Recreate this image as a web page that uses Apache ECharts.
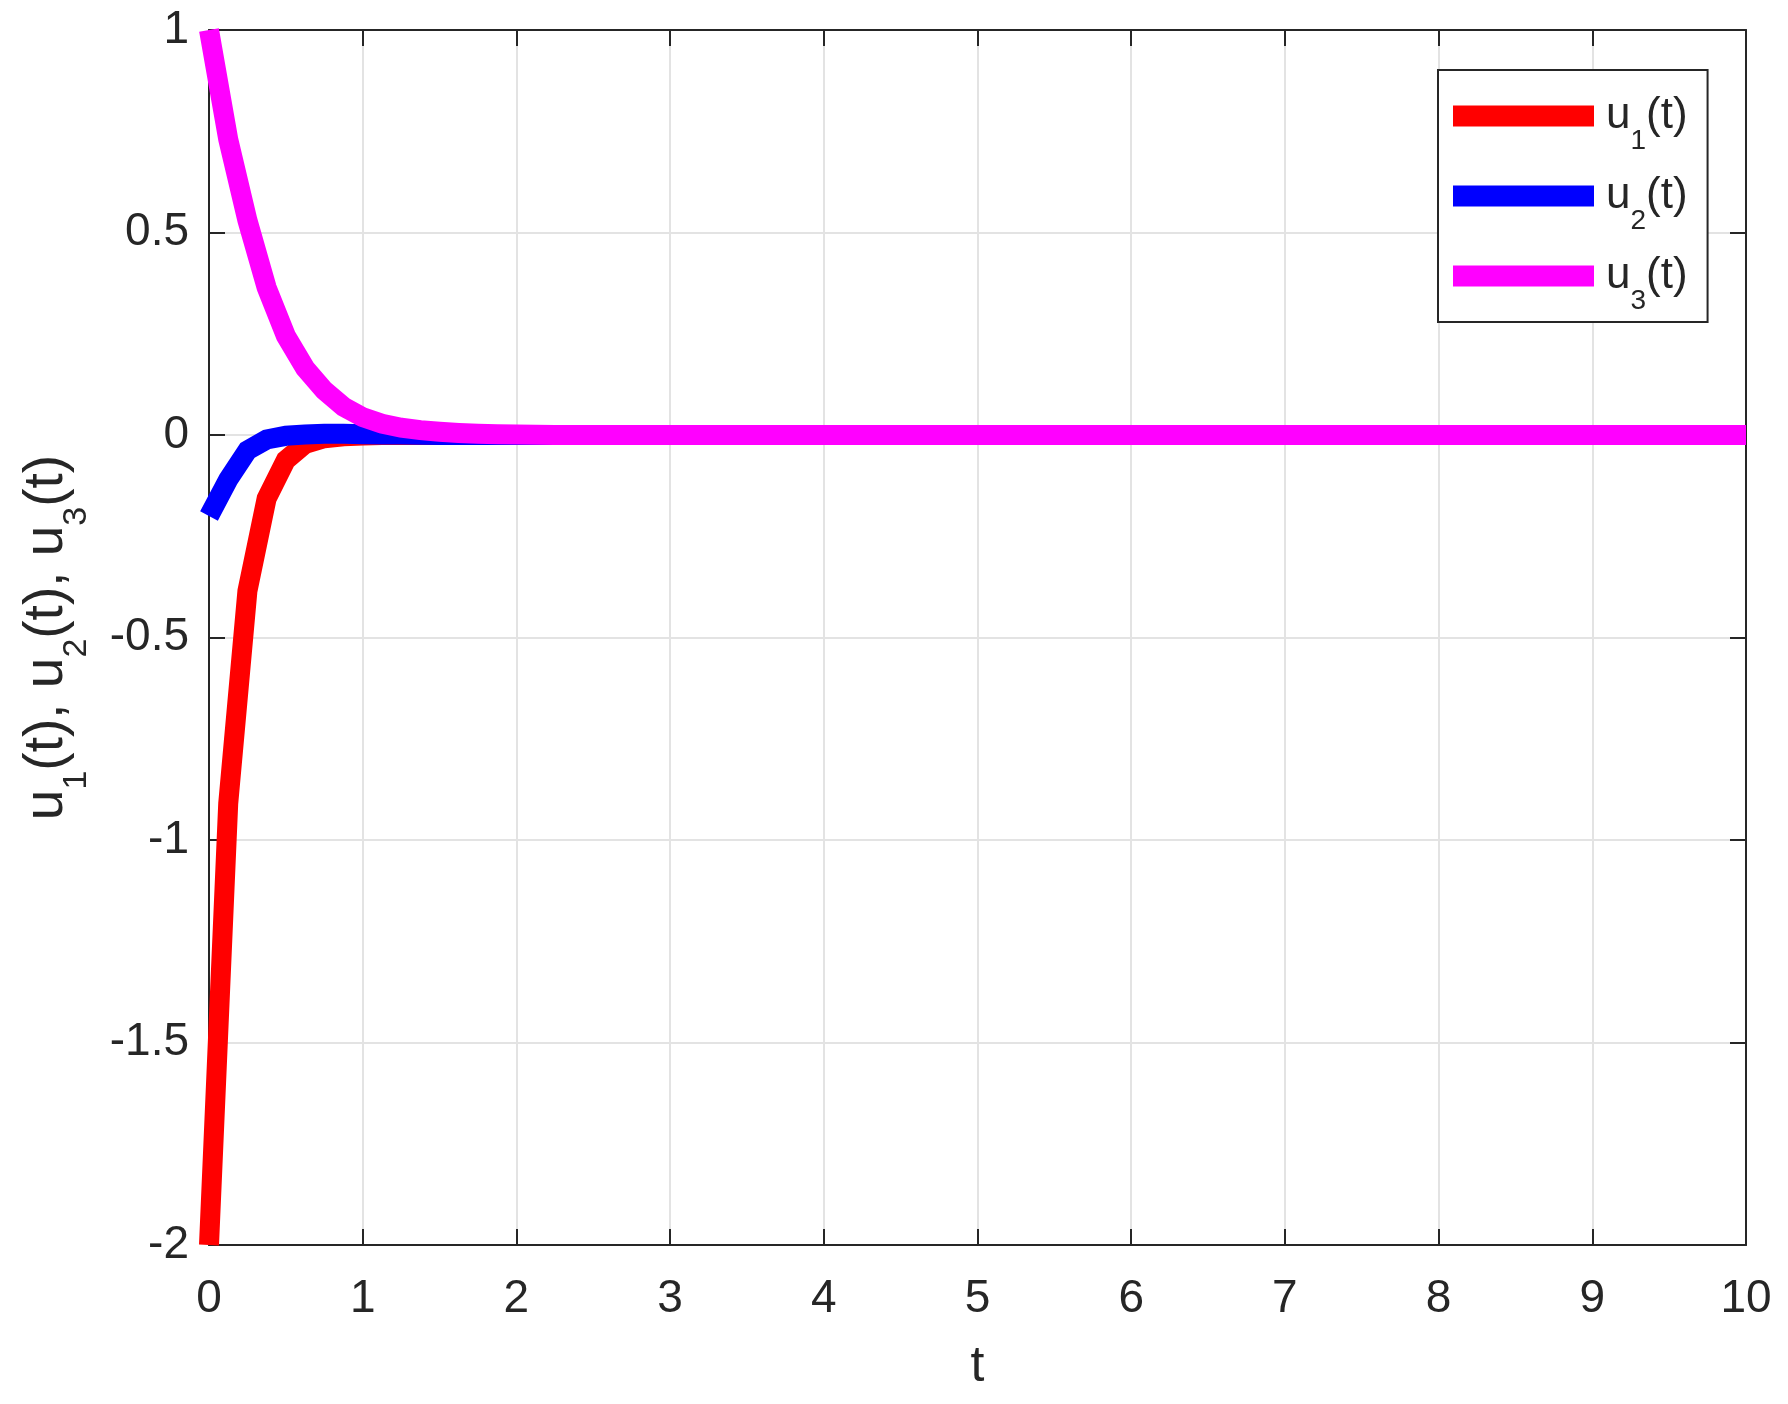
<!DOCTYPE html>
<html>
<head>
<meta charset="utf-8">
<script src="https://cdn.jsdelivr.net/npm/echarts@6/dist/echarts.min.js"></script>
<style>
  html, body { margin: 0; padding: 0; background: #fff; }
  #chart { width: 1788px; height: 1404px; }
</style>
</head>
<body>
<div id="chart"></div>
<script>
// time samples (after t=2.5 everything sits at 0)
const T = [0, 0.125, 0.25, 0.375, 0.5, 0.625, 0.75, 0.875, 1, 1.125, 1.25, 1.375, 1.5, 1.625, 1.75, 1.875, 2, 2.125, 2.25, 2.5, 10]
const U1 = [-2, -0.91, -0.385, -0.157, -0.062, -0.022, -0.008, -0.003, -0.001, 0, 0, 0, 0, 0, 0, 0, 0, 0, 0, 0, 0]
const U2 = [-0.2, -0.11, -0.038, -0.011, -0.002, 0.001, 0.003, 0.003, 0.002, 0.0015, 0.001, 0.0005, 0, 0, 0, 0, 0, 0, 0, 0, 0]
const U3 = [1, 0.73, 0.53, 0.364, 0.245, 0.165, 0.11, 0.07, 0.044, 0.028, 0.018, 0.012, 0.008, 0.005, 0.003, 0.002, 0.001, 0.0005, 0, 0, 0]

const NAMES = ['u1(t)', 'u2(t)', 'u3(t)']
const COLORS = ['#ff0000', '#0000ff', '#ff00ff']

const FONT = 'Liberation Sans'
const INK = '#262626'

const pairs = ys => T.map((t, i) => [t, ys[i]])

const axisBase = {
  type: 'value',
  axisLine: { show: true, onZero: false, lineStyle: { color: INK, width: 2 } },
  axisTick: { show: true, inside: true, length: 16, lineStyle: { color: INK, width: 2 } }
}

const chart = echarts.init(document.getElementById('chart'))
chart.setOption({
  animation: false,
  backgroundColor: '#fff',
  textStyle: { fontFamily: FONT, color: INK },
  grid: { left: 209, right: 42, top: 30, bottom: 159, containLabel: false, outerBoundsMode: 'none' },
  legend: {
    data: NAMES,
    orient: 'vertical',
    left: 1438,
    top: 70,
    padding: [7, 20, 7, 15],
    itemWidth: 141,
    itemHeight: 21,
    itemGap: 2,
    icon: 'rect',
    borderColor: INK,
    borderWidth: 2,
    backgroundColor: '#fff',
    formatter: n => '{a|u}{s|' + n.charAt(1) + '}{m|(t)}',
    textStyle: {
      fontFamily: FONT,
      color: INK,
      lineHeight: 54,
      rich: {
        a: { fontSize: 44, lineHeight: 54, fontFamily: FONT, color: INK, padding: [0, 0, 0, 7] },
        m: { fontSize: 44, lineHeight: 54, fontFamily: FONT, color: INK },
        s: { fontSize: 28, lineHeight: 54, fontFamily: FONT, color: INK, padding: [50, 0, 0, 0] }
      }
    }
  },
  xAxis: [
    {
      ...axisBase,
      position: 'bottom',
      min: 0, max: 10, interval: 1,
      axisLabel: { fontSize: 46, fontFamily: FONT, color: INK, margin: 31 },
      splitLine: { show: true, lineStyle: { color: '#e3e3e3', width: 2 } },
      name: 't',
      nameLocation: 'middle',
      nameGap: 97,
      nameTextStyle: { fontSize: 50, fontFamily: FONT, color: INK }
    },
    {
      ...axisBase,
      position: 'top',
      min: 0, max: 10, interval: 1,
      axisLabel: { show: false },
      splitLine: { show: false }
    }
  ],
  yAxis: [
    {
      ...axisBase,
      position: 'left',
      min: -2, max: 1, interval: 0.5,
      axisLabel: { fontSize: 46, fontFamily: FONT, color: INK, margin: 20, padding: [10, 0, 0, 0] },
      splitLine: { show: true, lineStyle: { color: '#e3e3e3', width: 2 } },
      name: '{m|u}{s|1}{m|(t), u}{s|2}{m|(t), u}{s|3}{m|(t)}',
      nameLocation: 'middle',
      nameRotate: 90,
      nameGap: 132,
      nameTextStyle: {
        fontFamily: FONT,
        color: INK,
        lineHeight: 60,
        rich: {
          m: { fontSize: 55, lineHeight: 60, fontFamily: FONT, color: INK },
          s: { fontSize: 34, lineHeight: 60, fontFamily: FONT, color: INK, padding: [60, 0, 0, 0] }
        }
      }
    },
    {
      ...axisBase,
      position: 'right',
      min: -2, max: 1, interval: 0.5,
      axisLabel: { show: false },
      splitLine: { show: false }
    }
  ],
  series: [U1, U2, U3].map((ys, i) => ({
    name: NAMES[i],
    type: 'line',
    data: pairs(ys),
    color: COLORS[i],
    showSymbol: false,
    clip: false,
    lineStyle: { width: 20, color: COLORS[i], join: 'miter', cap: 'butt' },
    itemStyle: { color: COLORS[i] }
  }))
})
</script>
</body>
</html>
